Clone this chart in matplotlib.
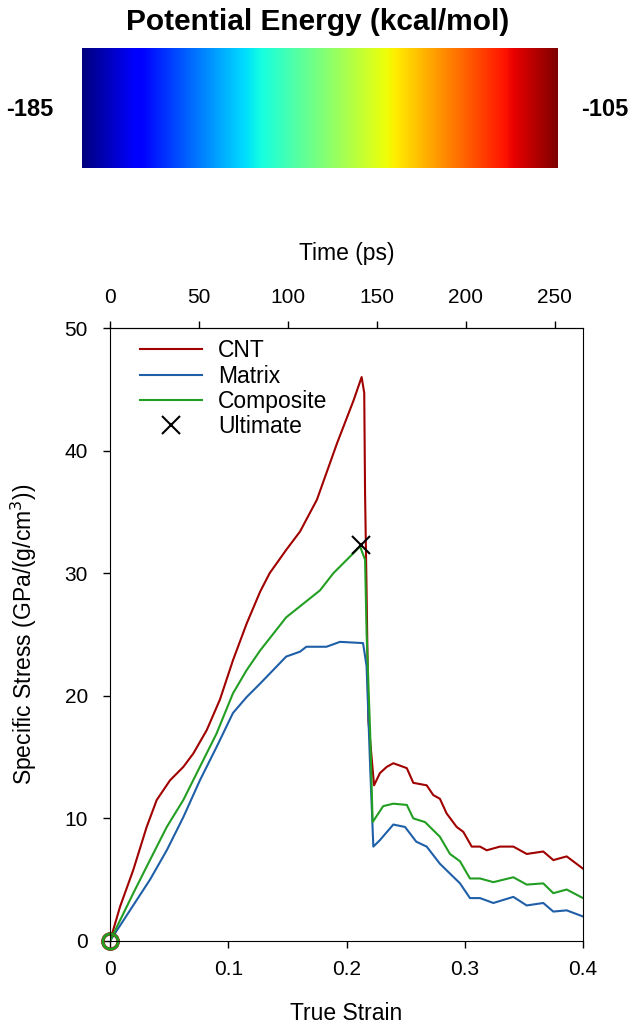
import numpy as np
import matplotlib
matplotlib.use("Agg")
import matplotlib.pyplot as plt

plt.rcParams['font.family'] = ['Liberation Sans', 'DejaVu Sans']

# strain / specific stress
cnt_strain = [0.0, 0.0085, 0.0197, 0.031, 0.0395, 0.0507, 0.062, 0.0705, 0.0818, 0.093,
              0.104, 0.1156, 0.127, 0.135, 0.149, 0.1607, 0.175, 0.192, 0.206, 0.2128, 0.215,
              0.2157, 0.217, 0.2185, 0.2233, 0.2283, 0.234, 0.2396, 0.251, 0.2565, 0.2678,
              0.2734, 0.279, 0.2847, 0.2932, 0.2988, 0.3059, 0.3129, 0.3186, 0.3298, 0.3411,
              0.3524, 0.3664, 0.3749, 0.3862, 0.4]
cnt_stress = [0.0, 2.8, 5.8, 9.3, 11.5, 13.1, 14.2, 15.3, 17.2, 19.7,
              22.9, 25.9, 28.5, 30.0, 31.9, 33.4, 36.0, 40.6, 44.1, 46.0, 44.7,
              36.5, 28.4, 18.0, 12.7, 13.7, 14.2, 14.5, 14.1, 12.9, 12.7,
              11.9, 11.6, 10.4, 9.3, 8.9, 7.7, 7.7, 7.4, 7.7, 7.7,
              7.1, 7.3, 6.6, 6.9, 5.9]

matrix_strain = [0.0, 0.0338, 0.048, 0.062, 0.076, 0.090, 0.104, 0.1156, 0.127, 0.149,
                 0.1607, 0.166, 0.183, 0.1945, 0.214, 0.217, 0.22, 0.2227, 0.228, 0.2396,
                 0.2495, 0.259, 0.2678, 0.279, 0.2875, 0.296, 0.3044, 0.3129, 0.3242, 0.3411,
                 0.3524, 0.3664, 0.3749, 0.3862, 0.4]
matrix_stress = [0.0, 5.0, 7.4, 10.1, 13.1, 15.8, 18.6, 19.9, 21.0, 23.2,
                 23.6, 24.0, 24.0, 24.4, 24.3, 22.4, 14.2, 7.7, 8.2, 9.5,
                 9.3, 8.1, 7.7, 6.3, 5.5, 4.7, 3.5, 3.5, 3.1, 3.6,
                 2.9, 3.1, 2.4, 2.5, 2.0]

comp_strain = [0.0, 0.0197, 0.0338, 0.048, 0.062, 0.076, 0.090, 0.104, 0.1156, 0.127,
               0.149, 0.1607, 0.1776, 0.1889, 0.2086, 0.2114, 0.2157, 0.217, 0.22, 0.2221,
               0.231, 0.2396, 0.251, 0.2565, 0.2664, 0.279, 0.2875, 0.296, 0.3044, 0.3129,
               0.3242, 0.3411, 0.3524, 0.3664, 0.3749, 0.3862, 0.4]
comp_stress = [0.0, 3.9, 6.6, 9.3, 11.5, 14.2, 16.9, 20.2, 22.1, 23.7,
               26.4, 27.3, 28.6, 30.0, 31.9, 32.2, 31.1, 25.1, 17.0, 9.7,
               11.0, 11.2, 11.1, 10.0, 9.7, 8.5, 7.1, 6.5, 5.1, 5.1,
               4.8, 5.2, 4.6, 4.7, 3.9, 4.2, 3.5]

ultimate = (0.212, 32.3)
ps_per_strain = 665.0
time_ticks = [0, 50, 100, 150, 200, 250]
energy_range = (-185, -105)

fig = plt.figure(figsize=(6.36, 10.29), dpi=100)

# colour bar on top
cax = fig.add_axes([82/636, 1-168/1029, 476/636, 120/1029])
grad = np.linspace(energy_range[0], energy_range[1], 256).reshape(1, -1)
cax.imshow(grad, aspect='auto', cmap='jet')
cax.set_axis_off()
fig.text(0.5, 1-22/1029, 'Potential Energy (kcal/mol)', ha='center', va='center',
         fontsize=21.5, fontweight='bold')
fig.text(30/636, 1-110/1029, str(energy_range[0]), ha='center', va='center',
         fontsize=17, fontweight='bold')
fig.text(605/636, 1-110/1029, str(energy_range[1]), ha='center', va='center',
         fontsize=17, fontweight='bold')

ax = fig.add_axes([110/636, 1-941/1029, 473/636, 613/1029])
red, blue, green = '#a00000', '#1f5fa8', '#229e22'
ax.plot(cnt_strain, cnt_stress, color=red, lw=1.5, label='CNT')
ax.plot(matrix_strain, matrix_stress, color=blue, lw=1.5, label='Matrix')
ax.plot(comp_strain, comp_stress, color=green, lw=1.5, label='Composite')
ax.plot([0], [0], 'o', ms=11, mfc='none', mec=red, mew=2.5, clip_on=False)
ax.plot([0], [0], 'o', ms=11, mfc='none', mec=green, mew=2, clip_on=False)
ax.plot([ultimate[0]], [ultimate[1]], 'x', ms=13, mew=1.5, color='black', ls='none',
        label='Ultimate')

ax.set_xlim(0, 0.4)
ax.set_ylim(0, 50)
ax.set_xticks([0, 0.1, 0.2, 0.3, 0.4])
ax.set_xticklabels(['0', '0.1', '0.2', '0.3', '0.4'])
ax.set_yticks([0, 10, 20, 30, 40, 50])
ax.tick_params(direction='out', length=5, width=1, labelsize=15)
ax.tick_params(axis='x', pad=9)
ax.tick_params(axis='y', pad=11)
ax.set_xlabel('True Strain', fontsize=16.5, labelpad=16)
ax.set_ylabel('Specific Stress (GPa/(g/cm$^3$))', fontsize=16.5, labelpad=18)

top = ax.secondary_xaxis('top', functions=(lambda s: s*ps_per_strain,
                                            lambda t: t/ps_per_strain))
top.set_xticks(time_ticks)
top.tick_params(direction='out', length=5, width=1, labelsize=15, pad=10)
top.set_xlabel('Time (ps)', fontsize=16.5, labelpad=20)

ax.legend(loc='upper left', bbox_to_anchor=(0.02, 1.015), frameon=False, fontsize=16.5,
          handlelength=2.7, labelspacing=0.1, handletextpad=0.7)

fig.savefig('out.png', dpi=100)
